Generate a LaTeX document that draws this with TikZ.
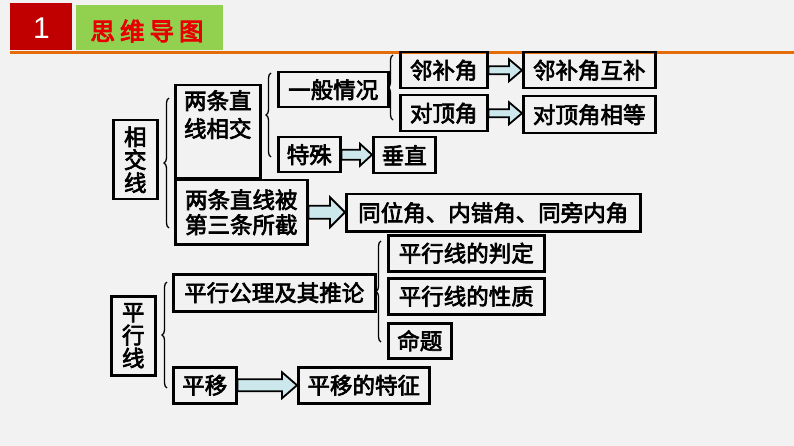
\documentclass[tikz,border=0pt]{standalone}
\usepackage{fontspec}
\newfontfamily\cjk{Noto Sans CJK SC}[FakeBold=3]
\newfontfamily\cjkhd{Noto Sans CJK SC}[FakeBold=4]
\newfontfamily\lat{Liberation Sans}
\usetikzlibrary{calc,decorations.pathreplacing}
\definecolor{bg}{RGB}{242,242,242}
\definecolor{hdred}{RGB}{192,0,0}
\definecolor{hdgreen}{RGB}{146,208,80}
\definecolor{hdtext}{RGB}{230,0,0}
\definecolor{hdline}{RGB}{228,108,10}
\definecolor{arrfill}{RGB}{205,232,237}
\tikzset{
  box/.style={draw, line width=2.5pt, inner sep=0pt, anchor=north west, font=\cjk\fontsize{22.5}{25}\selectfont, align=center},
  txt/.style={inner sep=0pt, font=\cjk\fontsize{22.5}{25}\selectfont, align=center},
  bracesty/.style={draw, line width=1.3pt, decorate, decoration={brace, amplitude=5pt}},
  arrowsty/.style={draw, line width=1.8pt, fill=arrfill, line join=miter},
}
\newcommand\barrow[5]{%
  \filldraw[arrowsty] let \p1=(#1.east), \p2=(#2.west) in
    (\x1,\y1-#3) -- (\x2-#5,\y1-#3) -- (\x2-#5,\y1-#4) -- (\x2,\y1)
    -- (\x2-#5,\y1+#4) -- (\x2-#5,\y1+#3) -- (\x1,\y1+#3) -- cycle;}
\begin{document}
\begin{tikzpicture}[x=1pt,y=-1pt]
\useasboundingbox[fill=bg] (0,0) rectangle (794,446);
% header
\node[fill=hdred, minimum width=62pt, minimum height=47pt, inner sep=0pt, anchor=north west] (hnum) at (10,3) {};
\node[text=white, font=\lat\fontsize{30}{30}\selectfont, inner sep=0pt] (hnumt) at (41.5,28.5) {1};
\node[fill=hdgreen, minimum width=147pt, minimum height=45pt, inner sep=0pt, anchor=north west] (htitle) at (76,5) {};
\node[text=hdtext, font=\cjkhd\fontsize{24.5}{24.5}\selectfont, inner sep=0pt] (htitlet) at (147,31) {思\hspace{5pt}维\hspace{5pt}导\hspace{5pt}图};
\draw[hdline, line width=2.5pt] (10,52.5) -- (794,52.5);

% boxes
\node[box, minimum width=44pt, minimum height=79pt] (xjx) at (112,119) {};
\node[txt, font=\cjk\fontsize{22.5}{23}\selectfont] (xjxt) at (xjx.center) {相\\交\\线};
\node[box, minimum width=85pt, minimum height=93pt] (lt) at (174,84) {};
\node[txt, anchor=north, font=\cjk\fontsize{22.5}{28}\selectfont] (ltt) at ([yshift=-6pt]lt.north) {两条直\\线相交};
\node[box, minimum width=132pt, minimum height=64pt, font=\cjk\fontsize{22.5}{25}\selectfont] (lb) at (174,179) {两条直线被\\第三条所截};
\node[box, minimum width=110pt, minimum height=35pt] (yb) at (277,71) {一般情况};
\node[box, minimum width=62pt, minimum height=35pt] (ts) at (277,136) {特殊};
\node[box, minimum width=62pt, minimum height=36pt] (cz) at (372,136) {垂直};
\node[box, minimum width=87pt, minimum height=36pt] (lbj) at (399,51) {邻补角};
\node[box, minimum width=132pt, minimum height=36pt] (lbh) at (522,51) {邻补角互补};
\node[box, minimum width=87pt, minimum height=36pt] (dd) at (399,94) {对顶角};
\node[box, minimum width=132pt, minimum height=37pt] (ddx) at (522,95) {对顶角相等};
\node[box, minimum width=294pt, minimum height=37pt] (tw) at (345,193) {同位角、内错角、同旁内角};
\node[box, minimum width=156pt, minimum height=36pt] (pd) at (387,234) {平行线的判定};
\node[box, minimum width=156pt, minimum height=36pt] (px) at (387,277) {平行线的性质};
\node[box, minimum width=63pt, minimum height=35pt] (mt) at (387,322) {命题};
\node[box, minimum width=202pt, minimum height=37pt] (pg) at (172,273) {平行公理及其推论};
\node[box, minimum width=44pt, minimum height=79pt] (pxl) at (110,295) {};
\node[txt, font=\cjk\fontsize{22.5}{23}\selectfont] (pxlt) at (pxl.center) {平\\行\\线};
\node[box, minimum width=63pt, minimum height=36pt] (py) at (172,366) {平移};
\node[box, minimum width=131pt, minimum height=36pt] (pyt) at (297,366) {平移的特征};

% braces
\coordinate (bA1) at (169,228); \coordinate (bA2) at (169,98);
\coordinate (bB1) at (271,157); \coordinate (bB2) at (271,73);
\coordinate (bC1) at (393,120); \coordinate (bC2) at (393,55);
\coordinate (bD1) at (381,342); \coordinate (bD2) at (381,241);
\coordinate (bE1) at (167,388); \coordinate (bE2) at (167,282);
\draw[bracesty] (bA1) -- (bA2);
\draw[bracesty] (bB1) -- (bB2);
\draw[bracesty] (bC1) -- (bC2);
\draw[bracesty] (bD1) -- (bD2);
\draw[bracesty] (bE1) -- (bE2);

% block arrows
\barrow{lbj}{lbh}{4pt}{11pt}{13pt}
\barrow{dd}{ddx}{4pt}{11pt}{13pt}
\barrow{ts}{cz}{5pt}{11pt}{12pt}
\barrow{lb}{tw}{6.5pt}{15pt}{15pt}
\barrow{py}{pyt}{6pt}{13pt}{15pt}
\end{tikzpicture}
\end{document}
